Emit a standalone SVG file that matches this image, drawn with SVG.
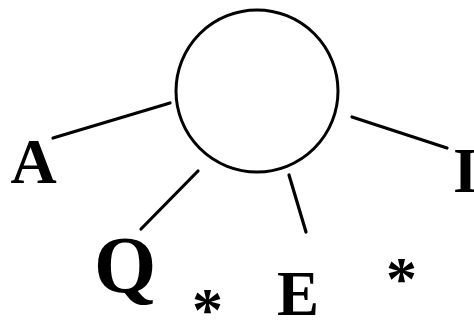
<svg xmlns="http://www.w3.org/2000/svg" width="474" height="322" viewBox="0 0 474 322">
<style>
.ln{stroke:#000;stroke-width:3.2;stroke-linecap:round;fill:none}
.t{font-family:"Liberation Serif","Times New Roman",serif;font-weight:bold;fill:#000}
</style>
<rect width="474" height="322" fill="#fff"/>
<g id="center"><circle cx="257" cy="91" r="81" fill="#fff" stroke="#000" stroke-width="3"/></g>
<g id="connectors">
<line class="ln" x1="53" y1="138" x2="170" y2="103"/>
<line class="ln" x1="352" y1="117" x2="447" y2="148"/>
<line class="ln" x1="198" y1="171" x2="141" y2="229"/>
<line class="ln" x1="289" y1="175" x2="306" y2="232"/>
</g>
<g id="nodeA"><text class="t" x="33.5" y="183" font-size="64" text-anchor="middle">A</text></g>
<g id="nodeI"><text class="t" x="453" y="192" font-size="64">I</text></g>
<g id="nodeQ"><text class="t" x="125" y="292" font-size="80" text-anchor="middle">Q</text></g>
<g id="nodeE"><text class="t" x="298" y="315" font-size="63" text-anchor="middle">E</text></g>
<g id="star1"><text class="t" x="207.5" y="330" font-size="62" text-anchor="middle">*</text></g>
<g id="star2"><text class="t" x="401.5" y="299" font-size="62" text-anchor="middle">*</text></g>
</svg>
